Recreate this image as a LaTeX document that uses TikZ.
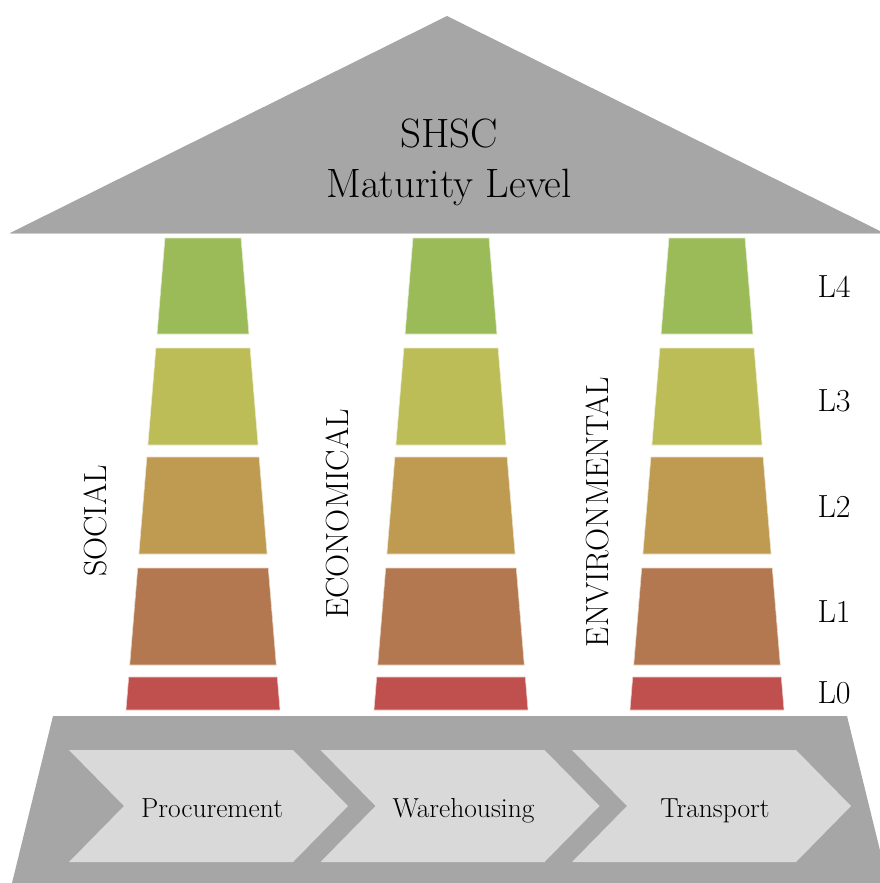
\documentclass[tikz,border=0pt]{standalone}
\usepackage{fontspec}
\usepackage{tikz}
\usetikzlibrary{calc}
\definecolor{roofgray}{RGB}{166,166,166}
\definecolor{roofedge}{RGB}{205,205,205}
\definecolor{stepgray}{RGB}{217,217,217}
\definecolor{lvlfour}{RGB}{155,187,89}
\definecolor{lvlthree}{RGB}{189,189,88}
\definecolor{lvltwo}{RGB}{191,155,82}
\definecolor{lvlone}{RGB}{179,120,79}
\definecolor{lvlzero}{RGB}{192,80,77}

\begin{document}
\begin{tikzpicture}[
      x=1pt, y=-1pt,
      block/.style={draw=white!70!#1, line width=0.6pt, fill=#1},
      chevron/.style={fill=stepgray},
      title/.style={anchor=base, font=\fontsize{41}{49}\selectfont},
      pillarlabel/.style={rotate=90, anchor=base, font=\fontsize{32}{38}\selectfont},
      levellabel/.style={anchor=base west, font=\fontsize{32}{38}\selectfont},
      steplabel/.style={anchor=base, font=\fontsize{27.5}{33}\selectfont}
    ]
      \useasboundingbox (0,0) rectangle (880,883);
      \clip (0,0) rectangle (880,883);

      % Roof
      \fill[roofgray] (10,233) -- (447,16) -- (884,233) -- cycle;
      \draw[roofedge, line width=1.2pt] (10,233.5) -- (884,233.5);
      \node[title] (shsc) at (449,147) {SHSC};
      \node[title] (maturity) at (449,197) {Maturity Level};

      % Pillars
      \foreach \cx in {203,451,707}{
        \foreach \ytop/\ybot/\col in {238/334/lvlfour, 348/445/lvlthree, 457/554/lvltwo, 568/665/lvlone, 677/710/lvlzero}{
          \pgfmathsetmacro{\wtop}{38+0.0826*(\ytop-238)}
          \pgfmathsetmacro{\wbot}{38+0.0826*(\ybot-238)}
          \path[block=\col] (\cx-\wtop,\ytop) -- (\cx+\wtop,\ytop) -- (\cx+\wbot,\ybot) -- (\cx-\wbot,\ybot) -- cycle;
        }
      }

      % Pillar names
      \node[pillarlabel] (social) at (106,521) {SOCIAL};
      \node[pillarlabel] (economical) at (348,514) {ECONOMICAL};
      \node[pillarlabel] (environmental) at (608,512) {ENVIRONMENTAL};

      % Levels
      \foreach \lv/\yb in {4/297, 3/411, 2/517, 1/622, 0/703}{
        \node[levellabel] (lev\lv) at (814,\yb) {L\lv};
      }

      % Base with process steps
      \fill[roofgray] (53,716) -- (847,716) -- (888,883) -- (12,883) -- cycle;
      \foreach \i/\name/\txt in {0/procurement/Procurement, 1/warehousing/Warehousing, 2/transport/Transport}{
        \pgfmathsetmacro{\lx}{69+251.5*\i}
        \fill[chevron] (\lx,750) -- ++(224,0) -- ++(55,56) -- ++(-55,56) -- ++(-224,0) -- ++(55,-56) -- cycle;
        \node[steplabel] (\name) at (\lx+143,817) {\txt};
      }
    \end{tikzpicture}
\end{document}
